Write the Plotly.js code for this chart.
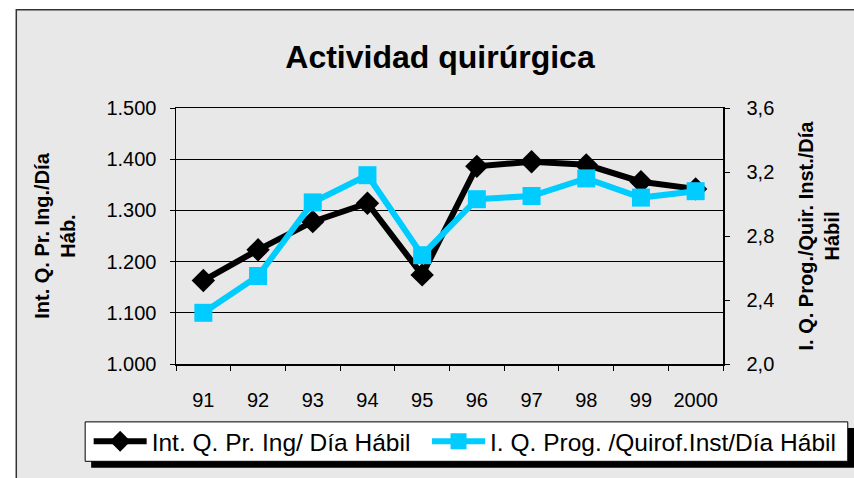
<!DOCTYPE html>
<html>
<head>
<meta charset="utf-8">
<script src="https://cdn.plot.ly/plotly-3.0.1.min.js"></script>
<style>
  html, body { margin: 0; padding: 0; background: #ffffff; }
  #chart { width: 854px; height: 478px; }
</style>
</head>
<body>
<div id="chart"></div>
<script>
// ---- data ----
const years = ["91", "92", "93", "94", "95", "96", "97", "98", "99", "2000"];
const intQPrIng = [1163, 1223, 1278, 1314, 1174, 1386, 1395, 1389, 1356, 1342];
const iQProgQuirof = [2.32, 2.55, 3.01, 3.18, 2.68, 3.03, 3.05, 3.16, 3.04, 3.08];
const seriesNames = ["Int. Q. Pr. Ing/ Día Hábil", "I. Q. Prog. /Quirof.Inst/Día Hábil"];
const chartTitle = "Actividad quirúrgica";
const leftTitle = "Int. Q. Pr. Ing./Día<br>Háb.";
const rightTitle = "I. Q. Prog./Quir. Inst./Día<br>Hábil";

// ---- geometry helpers (pixel -> paper fraction) ----
const W = 854, H = 478;
const M = { l: 175.5, r: 130.5, t: 108, b: 113.5 };
const PW = W - M.l - M.r, PH = H - M.t - M.b;
const px = x => (x - M.l) / PW;
const py = y => (H - M.b - y) / PH;

const FONT = "Liberation Sans, Arial, sans-serif";

const traces = [
  {
    x: years, y: intQPrIng, name: seriesNames[0], type: "scatter", mode: "lines+markers",
    yaxis: "y", legend: "legend", line: { color: "#000000", width: 6 },
    marker: { symbol: "diamond", size: 18, color: "#000000" }
  },
  {
    x: years, y: iQProgQuirof, name: seriesNames[1], type: "scatter", mode: "lines+markers",
    yaxis: "y2", legend: "legend2", line: { color: "#00CCFF", width: 6 },
    marker: { symbol: "square", size: 18, color: "#00CCFF" }
  }
];

const legendStyle = (xpix) => ({
  orientation: "h",
  x: px(xpix), xanchor: "left",
  y: py(442), yanchor: "middle",
  bgcolor: "rgba(0,0,0,0)", borderwidth: 0,
  font: { family: FONT, size: 24.5, color: "#000000" },
  itemwidth: 53
});

const layout = {
  width: W, height: H,
  margin: M,
  separators: ",.",
  paper_bgcolor: "#ffffff",
  plot_bgcolor: "#ffffff",
  font: { family: FONT, size: 20, color: "#000000" },
  showlegend: true,
  title: {
    text: "<b>" + chartTitle + "</b>",
    font: { family: FONT, size: 32, color: "#000000" },
    xref: "container", yref: "container", x: 440 / W, y: 1 - 57 / H,
    xanchor: "center", yanchor: "middle"
  },
  xaxis: {
    type: "category", tickson: "boundaries",
    range: [-0.5, years.length - 0.5], tickangle: 0,
    showline: true, linecolor: "#000000", linewidth: 1.5, mirror: true,
    ticks: "outside", ticklen: 5, tickcolor: "#000000",
    ticklabelstandoff: 17,
    showgrid: false, zeroline: false,
    tickfont: { family: FONT, size: 20, color: "#000000" }
  },
  yaxis: {
    range: [1000, 1500], dtick: 100, tick0: 1000, tickformat: ",d",
    showline: true, linecolor: "#000000", linewidth: 1.5,
    ticks: "outside", ticklen: 5, tickcolor: "#000000",
    ticklabelstandoff: 9,
    showgrid: true, gridcolor: "#000000", gridwidth: 1, zeroline: false,
    tickfont: { family: FONT, size: 20, color: "#000000" },
    title: { text: "<b>" + leftTitle + "</b>", font: { family: FONT, size: 20, color: "#000000" }, standoff: 25 }
  },
  yaxis2: {
    overlaying: "y", side: "right",
    range: [2.0, 3.6], dtick: 0.4, tick0: 2.0, tickformat: ".1f",
    showline: true, linecolor: "#000000", linewidth: 1.5,
    ticks: "outside", ticklen: 5, tickcolor: "#000000",
    ticklabelstandoff: 13,
    showgrid: false, zeroline: false,
    tickfont: { family: FONT, size: 20, color: "#000000" },
    title: { text: "<b>" + rightTitle + "</b>", font: { family: FONT, size: 20, color: "#000000" }, standoff: 25 }
  },
  legend: legendStyle(88),
  legend2: legendStyle(427),
  shapes: [
    // chart area background with border
    { type: "rect", xref: "paper", yref: "paper", layer: "below",
      x0: px(15.5), x1: px(870), y0: py(9.5), y1: py(490),
      fillcolor: "#e8e8e8", line: { color: "#333333", width: 1.5 } },
    // legend shadow
    { type: "rect", xref: "paper", yref: "paper", layer: "above",
      x0: px(90.5), x1: px(860), y0: py(428.5), y1: py(468.5),
      fillcolor: "#000000", line: { width: 0 } },
    // legend box
    { type: "rect", xref: "paper", yref: "paper", layer: "above",
      x0: px(84.5), x1: px(848.5), y0: py(422.5), y1: py(462),
      fillcolor: "#ffffff", line: { color: "#000000", width: 1 } }
  ]
};

Plotly.newPlot("chart", traces, layout, { displayModeBar: false, staticPlot: true });
</script>
</body>
</html>
